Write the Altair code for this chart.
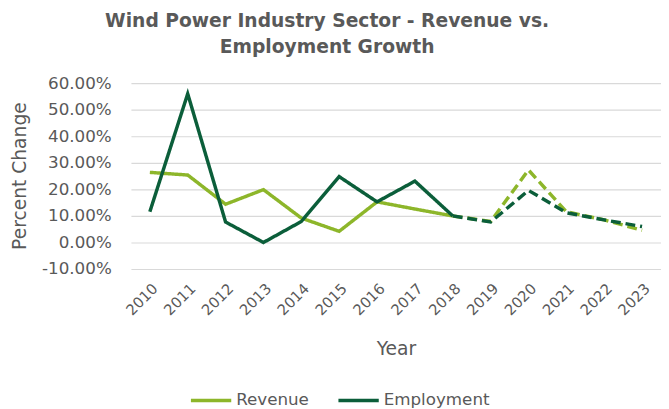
import altair as alt
import pandas as pd

years = [str(y) for y in range(2010, 2024)]
revenue = [26.4, 25.4, 14.4, 19.9, 9.2, 4.2, 15.3, 12.6, 10.0, 7.9, 27.3, 11.6, 8.5, 4.6]
employment = [11.6, 56.0, 7.7, 0.0, 7.9, 24.8, 15.3, 23.1, 10.0, 7.7, 19.6, 11.2, 8.5, 6.0]
last_actual = 8  # index of 2018; later years are dashed (projection)

rows = []
for name, vals in [("Revenue", revenue), ("Employment", employment)]:
    for i, (yr, v) in enumerate(zip(years, vals)):
        if i <= last_actual:
            rows.append({"Year": yr, "Value": v / 100, "Series": name, "Segment": "Actual"})
        if i >= last_actual:
            rows.append({"Year": yr, "Value": v / 100, "Series": name, "Segment": "Projected"})
df = pd.DataFrame(rows)

FONT = "DejaVu Sans"
GRAY = "#595959"

chart = alt.Chart(df).mark_line(strokeWidth=3.5).encode(
    x=alt.X("Year:N", sort=years, title="Year",
            scale=alt.Scale(paddingInner=0, paddingOuter=0.0),
            axis=alt.Axis(labelAngle=-45, labelAlign="right", labelBaseline="top",
                          labelFontSize=15, labelColor=GRAY, labelFont=FONT,
                          titleFontSize=19, titleColor=GRAY, titleFont=FONT,
                          titleFontWeight="normal", titlePadding=22,
                          ticks=False, domain=False, grid=False, labelPadding=12)),
    y=alt.Y("Value:Q", title="Percent Change",
            scale=alt.Scale(domain=[-0.1, 0.6], nice=False),
            axis=alt.Axis(values=[-0.1, 0, 0.1, 0.2, 0.3, 0.4, 0.5, 0.6],
                          labelExpr="(datum.value < 0 ? '-' : '') + format(abs(datum.value), '.2%')",
                          labelFontSize=17, labelColor=GRAY, labelFont=FONT,
                          titleFontSize=19, titleColor=GRAY, titleFont=FONT,
                          titleFontWeight="normal", titleX=-103, titleY=94,
                          ticks=False, domain=False, gridColor="#d9d9d9",
                          gridWidth=1.2, labelPadding=20)),
    color=alt.Color("Series:N", sort=["Revenue", "Employment"],
                    scale=alt.Scale(domain=["Revenue", "Employment"],
                                    range=["#8DB62A", "#0B5E3A"]),
                    legend=alt.Legend(title=None, orient="none", direction="horizontal",
                                      legendX=59, legendY=300, symbolType="stroke",
                                      symbolStrokeWidth=3.5, symbolSize=1681,
                                      labelFontSize=17, labelColor=GRAY, labelFont=FONT,
                                      columnPadding=22, labelOffset=3)),
    strokeDash=alt.StrokeDash("Segment:N",
                              scale=alt.Scale(domain=["Actual", "Projected"],
                                              range=[[1, 0], [10, 5]]),
                              legend=None),
    detail="Segment:N",
).properties(
    width=539,
    height=189,
    title=alt.TitleParams(["Wind Power Industry Sector - Revenue vs.", "Employment Growth"],
                          fontSize=19, font=FONT, fontWeight="bold", color=GRAY,
                          anchor="middle", dx=-70, offset=18, lineHeight=26),
    autosize=alt.AutoSizeParams(type="none"),
    padding={"left": 125, "top": 73, "right": 0, "bottom": 145},
).configure_view(stroke=None)

chart.save("out.html", embed_options={"renderer": "svg", "actions": False})
